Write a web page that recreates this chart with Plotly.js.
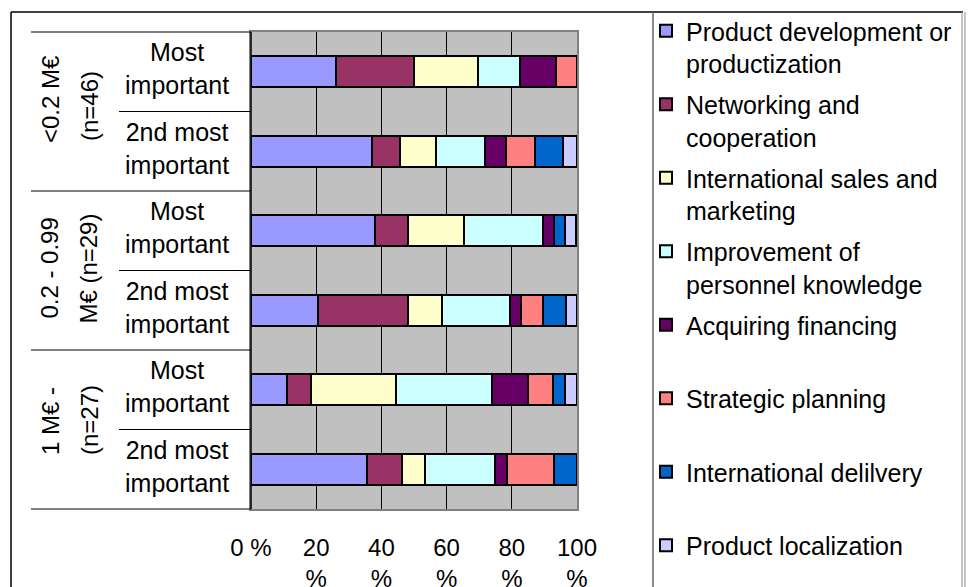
<!DOCTYPE html>
<html>
<head>
<meta charset="utf-8">
<script src="https://cdn.plot.ly/plotly-3.0.1.min.js"></script>
<style>html,body{margin:0;padding:0;background:#fff;}#chart{width:971px;height:587px;}</style>
</head>
<body>
<div id="chart"></div>
<script>
// ---- data ----
const groupLabels = ["<0.2 M€", "(n=46)", "0.2 - 0.99", "M€ (n=29)", "1 M€ -", "(n=27)"];
const subLabels = ["Most<br>important", "2nd most<br>important", "Most<br>important", "2nd most<br>important", "Most<br>important", "2nd most<br>important"];
const categories = ["<0.2 M€ (n=46) · Most important", "<0.2 M€ (n=46) · 2nd most important",
                    "0.2 - 0.99 M€ (n=29) · Most important", "0.2 - 0.99 M€ (n=29) · 2nd most important",
                    "1 M€ - (n=27) · Most important", "1 M€ - (n=27) · 2nd most important"];
const seriesNames = ["Product development or<br>productization", "Networking and<br>cooperation",
                     "International sales and<br>marketing", "Improvement of<br>personnel knowledge",
                     "Acquiring financing<br> ", "Strategic planning<br> ", "International delilvery<br> ", "Product localization"];
const productDevelopment = [26.1, 37.0, 37.9, 20.7, 11.1, 35.7];
const networking        = [23.9, 8.7, 10.3, 27.6, 7.4, 10.7];
const intlSales         = [19.6, 10.9, 17.2, 10.3, 25.9, 7.1];
const personnelKnow     = [13.0, 15.2, 24.1, 20.7, 29.6, 21.4];
const financing         = [10.9, 6.5, 3.4, 3.4, 11.1, 3.6];
const strategicPlanning = [6.5, 8.7, 0, 6.9, 7.4, 14.3];
const intlDelivery      = [0, 8.7, 3.4, 6.9, 3.7, 7.1];
const localization      = [0, 4.3, 3.4, 3.4, 3.7, 0];
const tickVals = [0, 20, 40, 60, 80, 100];
const tickText = ["0 %", "20<br>%", "40<br>%", "60<br>%", "80<br>%", "100<br>%"];

// ---- styles ----
const colors = ["#9999FF", "#993366", "#FFFFCC", "#CCFFFF", "#660066", "#FF8080", "#0066CC", "#CCCCFF"];
const seriesValues = [productDevelopment, networking, intlSales, personnelKnow, financing, strategicPlanning, intlDelivery, localization];
const FONT = "Liberation Sans, Arial, sans-serif";

const traces = seriesValues.map((vals, i) => ({
  type: "bar", orientation: "h",
  x: vals, y: categories,
  name: seriesNames[i], legendgroup: "g" + i,
  marker: {color: colors[i], line: {color: "#000", width: 2}},
  hoverinfo: "x+name"
}));

// pixel helpers for layout-only positions (plot area 251..577 x 32..509)
const L = 251, R = 394, T = 32, B = 78, W = 971 - L - R, H = 587 - T - B;
const px = v => (v - L) / W;
const py = v => (587 - B - v) / H;

const shapes = [];
const line = (x0, y0, x1, y1, color, width) => shapes.push({type: "line", xref: "paper", yref: "paper", x0, y0, x1, y1, line: {color, width}, layer: "above"});
// outer frame
line(px(11), py(12), px(963), py(12), "#000", 1.5);
line(px(11), py(12), px(11), py(640), "#000", 1.5);
// legend frame
line(px(653), py(12), px(653), py(640), "#666", 1.5);
line(px(962), py(12), px(962), py(640), "#888", 1);
line(px(965), py(12), px(965), py(640), "#888", 1);
// label separators
[0, 2, 4, 6].forEach(k => line(px(31), 1 - k / 6, 0, 1 - k / 6, "#000", 1));
[1, 3, 5].forEach(k => line(px(119), 1 - k / 6, 0, 1 - k / 6, "#000", 1));
// left axis line black
line(0, 0, 0, 1, "#000", 1.5);

const annotations = [];
categories.forEach((c, i) => annotations.push({
  xref: "paper", yref: "y", x: px(177), y: c, yshift: 3, text: subLabels[i], showarrow: false,
  xanchor: "center", yanchor: "middle", align: "center", font: {family: FONT, size: 25, color: "#000"}
}));
const groupPos = [[50, 99], [89, 106], [50, 268.6], [89, 268.6], [50, 421], [89, 420]];
groupLabels.forEach((t, i) => annotations.push({
  xref: "paper", yref: "paper", x: px(groupPos[i][0]), y: py(groupPos[i][1]), text: t, showarrow: false,
  textangle: -90, xanchor: "center", yanchor: "middle", font: {family: FONT, size: 24, color: "#000"}
}));

const layout = {
  width: 971, height: 587,
  margin: {l: L, r: R, t: T, b: B, pad: 0, autoexpand: false},
  paper_bgcolor: "#fff", plot_bgcolor: "#C0C0C0",
  barmode: "stack", bargap: 0.61,
  showlegend: true,
  legend: {
    x: px(646), y: py(8), xanchor: "left", yanchor: "top",
    traceorder: "grouped", tracegroupgap: 5.5, valign: "top",
    maxheight: 2000,
    font: {family: FONT, size: 25, color: "#000"},
    bgcolor: "rgba(0,0,0,0)", borderwidth: 0, itemclick: false
  },
  xaxis: {
    range: [0, 100], tickvals: tickVals, ticktext: tickText,
    showgrid: true, gridcolor: "#000", gridwidth: 1.2,
    showline: true, mirror: true, linecolor: "#808080", linewidth: 2,
    zeroline: false, ticks: "", ticklabelstandoff: 16,
    tickfont: {family: FONT, size: 24, color: "#000"}, fixedrange: true
  },
  yaxis: {
    type: "category", autorange: "reversed", showticklabels: false,
    showgrid: false, zeroline: false, ticks: "",
    showline: true, mirror: true, linecolor: "#808080", linewidth: 2, fixedrange: true
  },
  shapes, annotations,
  font: {family: FONT, color: "#000"}
};

Plotly.newPlot("chart", traces, layout, {displayModeBar: false, staticPlot: true});
</script>
</body>
</html>
